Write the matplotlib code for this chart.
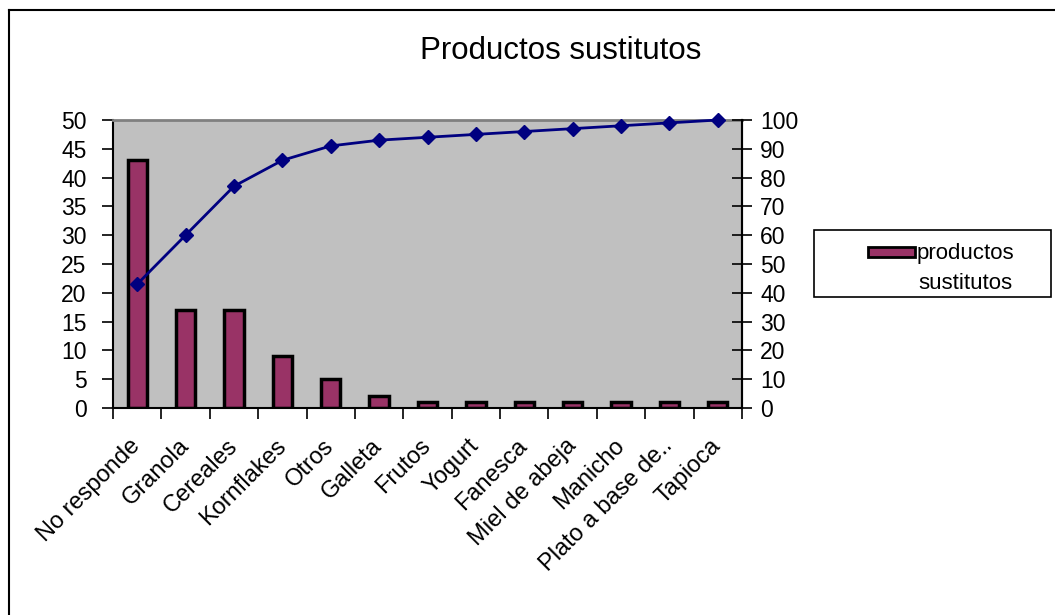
import matplotlib
matplotlib.use("Agg")
import matplotlib.pyplot as plt
from matplotlib.lines import Line2D
from matplotlib.patches import Rectangle

plt.rcParams["font.family"] = ["Liberation Sans", "DejaVu Sans"]

CATEGORIES = ["No responde", "Granola", "Cereales", "Kornflakes", "Otros", "Galleta",
              "Frutos", "Yogurt", "Fanesca", "Miel de abeja", "Manicho",
              "Plato a base de..", "Tapioca"]
COUNTS = [43, 17, 17, 9, 5, 2, 1, 1, 1, 1, 1, 1, 1]
CUM_PCT = [43, 60, 77, 86, 91, 93, 94, 95, 96, 97, 98, 99, 100]
LEFT_TICKS = list(range(0, 55, 5))
RIGHT_TICKS = list(range(0, 110, 10))

BAR, EDGE, LINE, PLOT_BG = "#993366", "#000000", "#000080", "#c0c0c0"

W, H = 1055, 615
fig = plt.figure(figsize=(W / 100, H / 100), dpi=100)
fig.patch.set_facecolor("white")

# plot area in pixel terms
x0, x1, ytop, ybot = 113, 742, 120, 408
ax = fig.add_axes([x0 / W, 1 - ybot / H, (x1 - x0) / W, (ybot - ytop) / H])
ax.set_facecolor(PLOT_BG)

x = list(range(len(CATEGORIES)))
ax.bar(x, COUNTS, width=0.4, color=BAR, edgecolor=EDGE, linewidth=2.5, zorder=2)
ax.set_xlim(-0.5, len(CATEGORIES) - 0.5)
ax.set_ylim(0, 50)
ax.set_yticks(LEFT_TICKS)
ax.tick_params(axis="y", labelsize=16.5, length=8, width=1.2, pad=11, direction="out")

ax.set_xticks(x)
ax.set_xticklabels(CATEGORIES, rotation=45, ha="right", va="center",
                   rotation_mode="anchor", fontsize=17)
ax.tick_params(axis="x", which="major", length=0, pad=25)
ax.set_xticks([i - 0.5 for i in range(len(CATEGORIES) + 1)], minor=True)
ax.tick_params(axis="x", which="minor", length=8, width=1.2, direction="out")

for s in ["left", "bottom", "right"]:
    ax.spines[s].set_color("black")
    ax.spines[s].set_linewidth(1.5)
ax.spines["top"].set_color("#808080")
ax.spines["top"].set_linewidth(2)

ax2 = ax.twinx()
ax2.plot(x, CUM_PCT, color=LINE, linewidth=2, marker="D", markersize=7,
         markerfacecolor=LINE, markeredgecolor=LINE, zorder=3, clip_on=False)
ax2.set_ylim(0, 100)
ax2.set_yticks(RIGHT_TICKS)
ax2.tick_params(axis="y", labelsize=16.5, length=14, width=1.2, pad=6, direction="inout")
for s in ["left", "bottom", "top"]:
    ax2.spines[s].set_visible(False)
ax2.spines["right"].set_color("black")
ax2.spines["right"].set_linewidth(1.5)

fig.text(561 / W, 1 - 51 / H, "Productos sustitutos", ha="center", va="center", fontsize=22.5)

# legend box on the right
fig.add_artist(Rectangle((814 / W, 1 - 297 / H), (1051 - 814) / W, (297 - 230) / H,
                         transform=fig.transFigure, facecolor="white",
                         edgecolor="black", linewidth=1.2))
fig.add_artist(Rectangle((868 / W, 1 - 257 / H), (915 - 868) / W, 10 / H,
                         transform=fig.transFigure, facecolor=BAR,
                         edgecolor=EDGE, linewidth=2))
fig.text(917 / W, 1 - 243 / H, "productos\nsustitutos", ha="left", va="top",
         multialignment="center", fontsize=16, linespacing=1.55)

# outer chart frame (top and left edges)
fig.add_artist(Line2D([9 / W, 1], [1 - 10 / H, 1 - 10 / H], transform=fig.transFigure,
                      color="black", linewidth=1.5))
fig.add_artist(Line2D([9 / W, 9 / W], [0, 1 - 10 / H], transform=fig.transFigure,
                      color="black", linewidth=1.5))

fig.savefig("out.png", dpi=100)
